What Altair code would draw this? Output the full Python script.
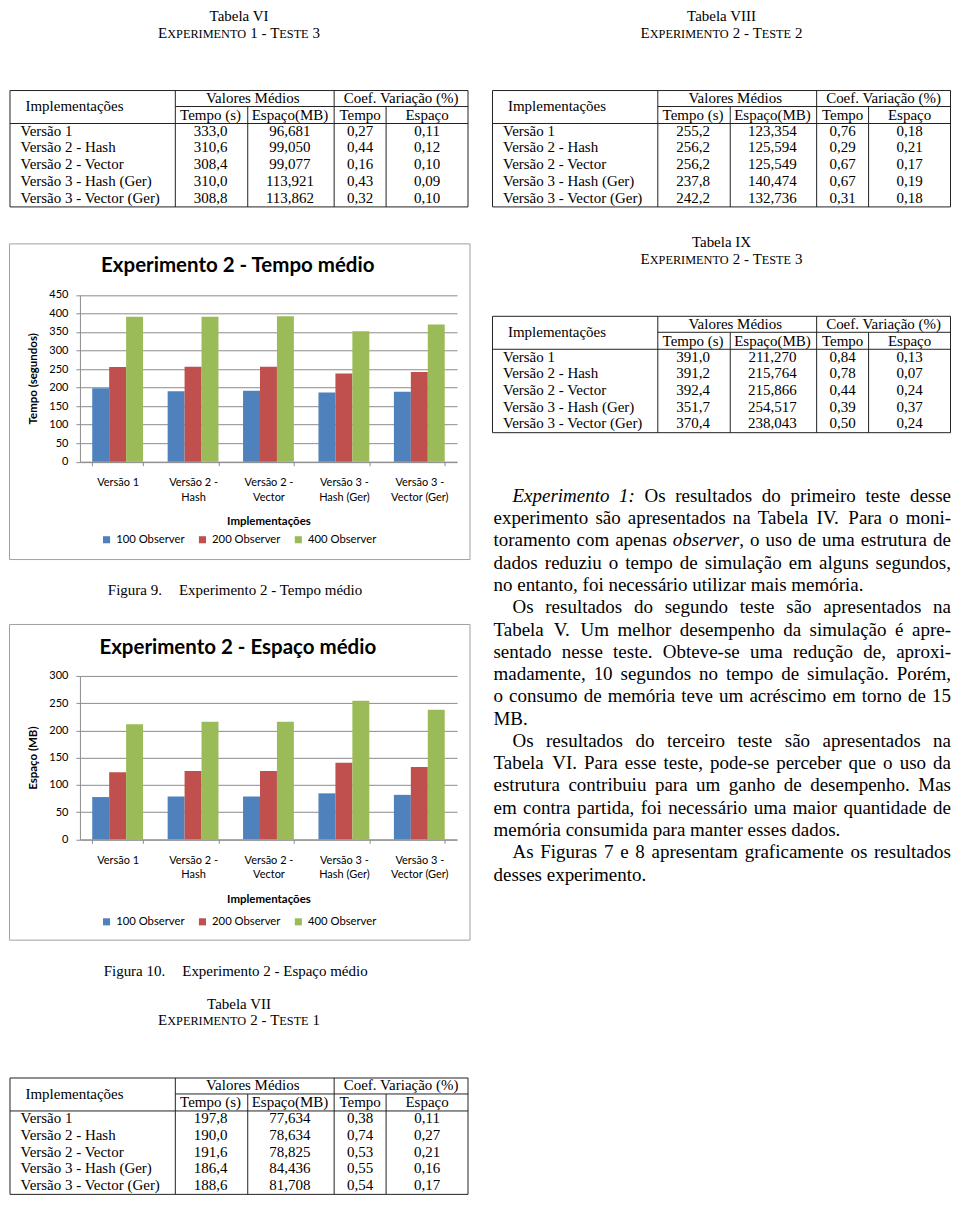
import unicodedata
import altair as alt
import pandas as pd

# ---------------------------------------------------------------- data
implementacoes = ["Versão 1", "Versão 2 - Hash", "Versão 2 - Vector",
                  "Versão 3 - Hash (Ger)", "Versão 3 - Vector (Ger)"]
series = ["100 Observer", "200 Observer", "400 Observer"]

# Tabela VI - Experimento 1 - Teste 3
t6_tempo = [333.0, 310.6, 308.4, 310.0, 308.8]
t6_espaco = [96.681, 99.050, 99.077, 113.921, 113.862]
t6_cv_tempo = [0.27, 0.44, 0.16, 0.43, 0.32]
t6_cv_espaco = [0.11, 0.12, 0.10, 0.09, 0.10]

# Tabela VII - Experimento 2 - Teste 1 (100 observer)
t7_tempo = [197.8, 190.0, 191.6, 186.4, 188.6]
t7_espaco = [77.634, 78.634, 78.825, 84.436, 81.708]
t7_cv_tempo = [0.38, 0.74, 0.53, 0.55, 0.54]
t7_cv_espaco = [0.11, 0.27, 0.21, 0.16, 0.17]

# Tabela VIII - Experimento 2 - Teste 2 (200 observer)
t8_tempo = [255.2, 256.2, 256.2, 237.8, 242.2]
t8_espaco = [123.354, 125.594, 125.549, 140.474, 132.736]
t8_cv_tempo = [0.76, 0.29, 0.67, 0.67, 0.31]
t8_cv_espaco = [0.18, 0.21, 0.17, 0.19, 0.18]

# Tabela IX - Experimento 2 - Teste 3 (400 observer)
t9_tempo = [391.0, 391.2, 392.4, 351.7, 370.4]
t9_espaco = [211.270, 215.764, 215.866, 254.517, 238.043]
t9_cv_tempo = [0.84, 0.78, 0.44, 0.39, 0.50]
t9_cv_espaco = [0.13, 0.07, 0.24, 0.37, 0.24]

tempo_ticks = [0, 50, 100, 150, 200, 250, 300, 350, 400, 450]
espaco_ticks = [0, 50, 100, 150, 200, 250, 300]

paragraph_lines = [
    ("*Experimento 1:* Os resultados do primeiro teste desse", True, True),
    ("experimento são apresentados na Tabela IV. Para o moni-", False, True),
    ("toramento com apenas *observer*, o uso de uma estrutura de", False, True),
    ("dados reduziu o tempo de simulação em alguns segundos,", False, True),
    ("no entanto, foi necessário utilizar mais memória.", False, False),
    ("Os resultados do segundo teste são apresentados na", True, True),
    ("Tabela V. Um melhor desempenho da simulação é apre-", False, True),
    ("sentado nesse teste. Obteve-se uma redução de, aproxi-", False, True),
    ("madamente, 10 segundos no tempo de simulação. Porém,", False, True),
    ("o consumo de memória teve um acréscimo em torno de 15", False, True),
    ("MB.", False, False),
    ("Os resultados do terceiro teste são apresentados na", True, True),
    ("Tabela VI. Para esse teste, pode-se perceber que o uso da", False, True),
    ("estrutura contribuiu para um ganho de desempenho. Mas", False, True),
    ("em contra partida, foi necessário uma maior quantidade de", False, True),
    ("memória consumida para manter esses dados.", False, False),
    ("As Figuras 7 e  8 apresentam graficamente os resultados", True, True),
    ("desses experimento.", False, False),
]

# ---------------------------------------------------------------- style
SERIF = "Liberation Serif"
SANS = "Lato"
COLORS = ["#4F81BD", "#C0504D", "#9BBB59"]
GRID = "#8C8C8C"
FRAME = "#A0A0A0"
LINE = "#222222"
INK = "#000000"

# Times metrics (1/1000 em) used to lay out serif text
_UP = "ABCDEFGHIJKLMNOPQRSTUVWXYZ"
_LO = "abcdefghijklmnopqrstuvwxyz"
R_W = dict(zip(_UP, [722, 667, 667, 722, 611, 556, 722, 722, 333, 389, 722, 611, 889,
                     722, 722, 556, 722, 667, 556, 611, 722, 722, 944, 722, 722, 611]))
R_W.update(zip(_LO, [444, 500, 444, 500, 444, 333, 500, 500, 278, 278, 500, 278, 778,
                     500, 500, 500, 500, 333, 389, 278, 500, 500, 722, 500, 500, 444]))
R_W.update({" ": 250, ",": 250, ".": 250, "-": 333, ":": 278, "(": 333, ")": 333, "%": 833})
I_W = dict(zip(_UP, [611, 611, 667, 722, 611, 611, 722, 722, 333, 444, 667, 556, 833,
                     667, 722, 611, 722, 611, 500, 556, 722, 611, 833, 611, 556, 556]))
I_W.update(zip(_LO, [500, 500, 444, 500, 444, 278, 500, 500, 278, 278, 444, 278, 722,
                     500, 500, 500, 500, 389, 389, 278, 500, 444, 667, 444, 444, 389]))
I_W.update({" ": 250, ",": 250, ".": 250, "-": 333, ":": 333, "(": 333, ")": 333, "%": 833})


def tw(s, size, italic=False):
    tab = I_W if italic else R_W
    tot = 0
    for ch in s:
        b = unicodedata.normalize("NFD", ch)[0]
        tot += tab.get(b, 500)
    return tot * size / 1000.0


def item(t, x, yc, size, align="left", italic=False):
    # yc = visual centre of the line; stored as alphabetic baseline
    return dict(t=t, x=x, y=yc + 0.32 * size, s=size, a=align, i=bool(italic))


def text_panel(items, rules, W, H):
    xs = alt.Scale(domain=[0, W], range=[0, W])
    ys = alt.Scale(domain=[0, H], range=[0, H])
    layers = []
    if rules:
        rdf = pd.DataFrame(rules)
        layers.append(alt.Chart(rdf).mark_rule(color=LINE, strokeWidth=1).encode(
            x=alt.X("x:Q", scale=xs, axis=None), x2="x2:Q",
            y=alt.Y("y:Q", scale=ys, axis=None), y2="y2:Q"))
    df = pd.DataFrame(items)
    for (a, it), sub in df.groupby(["a", "i"]):
        layers.append(alt.Chart(sub.reset_index(drop=True)).mark_text(
            align=a, baseline="alphabetic", font=SERIF,
            fontStyle="italic" if it else "normal", color=INK).encode(
            x=alt.X("x:Q", scale=xs, axis=None),
            y=alt.Y("y:Q", scale=ys, axis=None),
            text="t:N", size=alt.Size("s:Q", scale=None)))
    return alt.layer(*layers).properties(width=W, height=H)


def smallcaps(text, cx, yc, big=15, small=12.3):
    # tokens: (string, size) ; spaces only advance the pen
    toks = []
    for ch in text:
        if ch == " ":
            toks.append([" ", big])
            continue
        s, sz = (ch.upper(), small) if ch.islower() else (ch, big)
        if toks and toks[-1][0] != " " and toks[-1][1] == sz:
            toks[-1][0] += s
        else:
            toks.append([s, sz])
    widths = [tw(s, sz) for s, sz in toks]
    x = cx - sum(widths) / 2
    out = []
    for (s, sz), w in zip(toks, widths):
        if s != " ":
            out.append(dict(t=s, x=x, y=yc + 0.32 * big, s=sz, a="left", i=False))
        x += w
    return out


def br(v, d):
    return f"{v:.{d}f}".replace(".", ",")


PW = 461                      # panel / column width
EDGES = [1, 166.5, 239, 325.5, 377.5, 459.5]
TCX = (EDGES[0] + EDGES[-1]) / 2


def table_parts(caption, subtitle, tempo, espaco, cvt, cve, c):
    E = EDGES
    cols = [(E[1] + E[2]) / 2 - 1, (E[2] + E[3]) / 2 - 1, (E[3] + E[4]) / 2, (E[4] + E[5]) / 2]
    top, mid, hb, bot = c + 74, c + 90, c + 107, c + 190.5
    its = [item(caption, TCX, c, 15, "center")]
    its += smallcaps(subtitle, TCX, c + 16.5)
    its.append(item("Implementações", 16.5, c + 90, 15))
    its.append(item("Valores Médios", (E[1] + E[3]) / 2 - 2, c + 81.5, 15, "center"))
    its.append(item("Coef. Variação (%)", (E[3] + E[5]) / 2, c + 81.5, 15, "center"))
    for txt, cx in zip(["Tempo (s)", "Espaço(MB)", "Tempo", "Espaço"], cols):
        its.append(item(txt, cx, c + 98.5, 15, "center"))
    for k in range(5):
        y = c + 114.5 + 16.7 * k
        its.append(item(implementacoes[k], 11.5, y, 15))
        vals = [br(tempo[k], 1), br(espaco[k], 3), br(cvt[k], 2), br(cve[k], 2)]
        for v, cx in zip(vals, cols):
            its.append(item(v, cx, y, 15, "center"))
    rules = [
        dict(x=E[0], x2=E[5], y=top, y2=top),
        dict(x=E[1], x2=E[5], y=mid, y2=mid),
        dict(x=E[0], x2=E[5], y=hb, y2=hb),
        dict(x=E[0], x2=E[5], y=bot, y2=bot),
        dict(x=E[0], x2=E[0], y=top, y2=bot),
        dict(x=E[1], x2=E[1], y=top, y2=bot),
        dict(x=E[3], x2=E[3], y=top, y2=bot),
        dict(x=E[5], x2=E[5], y=top, y2=bot),
        dict(x=E[2], x2=E[2], y=mid, y2=bot),
        dict(x=E[4], x2=E[4], y=mid, y2=bot),
    ]
    return its, rules


def fig_caption(label, text, yc, cx=227):
    w1, w2, gap = tw(label, 15), tw(text, 15), 17
    x0 = cx - (w1 + gap + w2) / 2
    return [item(label, x0, yc, 15), item(text, x0 + w1 + gap, yc, 15)]


def bar_panel(vals, title, ytitle, ticks, y0, ytop, lab_y, axt_y, leg_y, title_y, H):
    rows = []
    for s_i, s in enumerate(series):
        for k, impl in enumerate(implementacoes):
            rows.append({"impl": impl, "serie": s, "v": vals[s_i][k]})
    df = pd.DataFrame(rows)
    XL, XR = 71, 448.5
    bars = alt.Chart(df).mark_bar().encode(
        x=alt.X("impl:N", sort=implementacoes,
                scale=alt.Scale(range=[XL, XR], paddingInner=0.326, paddingOuter=0.163),
                axis=alt.Axis(title="Implementações", offset=-(H - y0), tickBand="extent",
                              labelExpr="split(replace(datum.label, ' - ', ' -|'), '|')",
                              labelAngle=0, labelFont=SANS, labelFontSize=11, labelColor=INK,
                              labelLineHeight=15, labelPadding=lab_y - y0 - 4 - 6,
                              labelOverlap=False, tickSize=4, tickColor=GRID, domainColor=GRID,
                              titleFont=SANS, titleFontSize=11.5, titleFontWeight="bold",
                              titleColor=INK, titleX=(XL + XR) / 2, titleY=axt_y - y0,
                              titleAlign="center", titleBaseline="middle", grid=False)),
        xOffset=alt.XOffset("serie:N", sort=series),
        y=alt.Y("v:Q", scale=alt.Scale(domain=[ticks[0], ticks[-1]], range=[y0, ytop], nice=False),
                axis=alt.Axis(title=ytitle, offset=-XL, values=ticks, grid=True, gridColor=GRID,
                              gridWidth=1, tickSize=4, tickColor=GRID, domainColor=GRID,
                              labelFont=SANS, labelFontSize=11, labelColor=INK, labelPadding=8,
                              titleFont=SANS, titleFontSize=11.5, titleFontWeight="bold",
                              titleColor=INK, titleX=24.5 - XL, titleY=(y0 + ytop) / 2,
                              titleAngle=270, titleAlign="center", titleBaseline="middle")),
        color=alt.Color("serie:N", scale=alt.Scale(domain=series, range=COLORS),
                        legend=alt.Legend(orient="none", legendX=92, legendY=leg_y - 6,
                                          direction="horizontal", title=None, symbolType="square",
                                          symbolSize=50, symbolStrokeWidth=0, labelFont=SANS,
                                          labelFontSize=11.3, labelColor=INK, labelOffset=4,
                                          columnPadding=12, padding=0)),
    )
    ttl = alt.Chart(pd.DataFrame({"t": [title]})).mark_text(
        font=SANS, fontSize=20.5, fontWeight="bold", baseline="middle", align="center",
        color=INK).encode(x=alt.value(229), y=alt.value(title_y), text="t:N")
    return alt.layer(bars, ttl).properties(
        width=PW, height=H, view=alt.ViewBackground(stroke=FRAME, strokeWidth=1, fill="white"))


# ---------------------------------------------------------------- left column
its, rl = table_parts("Tabela VI", "Experimento 1 - Teste 3",
                      t6_tempo, t6_espaco, t6_cv_tempo, t6_cv_espaco, 8)
tab6 = text_panel(its, rl, PW, 234)

chart1 = bar_panel([t7_tempo, t8_tempo, t9_tempo], "Experimento 2 - Tempo médio",
                   "Tempo (segundos)", tempo_ticks, y0=218.5, ytop=51.6, lab_y=239,
                   axt_y=278, leg_y=297, title_y=23, H=316)

cap9 = text_panel(fig_caption("Figura 9.", "Experimento 2 - Tempo médio", 30), [], PW, 63)

chart2 = bar_panel([t7_espaco, t8_espaco, t9_espaco], "Experimento 2 - Espaço médio",
                   "Espaço (MB)", espaco_ticks, y0=215.6, ytop=52, lab_y=236.3,
                   axt_y=275.8, leg_y=298.5, title_y=24, H=316)

its = fig_caption("Figura 10.", "Experimento 2 - Espaço médio", 30.5)
its7, rl7 = table_parts("Tabela VII", "Experimento 2 - Teste 1",
                        t7_tempo, t7_espaco, t7_cv_tempo, t7_cv_espaco, 63.5)
bottom = text_panel(its + its7, rl7, PW, 254)

left = alt.vconcat(tab6, chart1, cap9, chart2, bottom, spacing=0).resolve_scale(
    color="independent").resolve_legend(color="independent")

# ---------------------------------------------------------------- right column
its8, rl8 = table_parts("Tabela VIII", "Experimento 2 - Teste 2",
                        t8_tempo, t8_espaco, t8_cv_tempo, t8_cv_espaco, 8)
tab8 = text_panel(its8, rl8, PW, 226)
its9, rl9 = table_parts("Tabela IX", "Experimento 2 - Teste 3",
                        t9_tempo, t9_espaco, t9_cv_tempo, t9_cv_espaco, 8)
tab9 = text_panel(its9, rl9, PW, 240)


def parse_words(line):
    words, cur, ital = [], [], False
    for ch in line:
        if ch == "*":
            ital = not ital
            continue
        if ch == " ":
            if cur:
                words.append(cur)
                cur = []
            continue
        cur.append((ch, ital))
    if cur:
        words.append(cur)
    out = []
    for w in words:
        pieces = []
        for ch, it in w:
            if pieces and pieces[-1][1] == it:
                pieces[-1][0] += ch
            else:
                pieces.append([ch, it])
        out.append(pieces)
    return out


FS = 19
LX0, LX1, INDENT = 2, 460, 19
para_items = []
for k, (line, indent, justify) in enumerate(paragraph_lines):
    yc = 21.7 + 22.3 * k
    words = parse_words(line)
    wws = [sum(tw(p, FS, it) for p, it in w) for w in words]
    x = LX0 + (INDENT if indent else 0)
    if justify and len(words) > 1:
        gap = (LX1 - x - sum(wws)) / (len(words) - 1)
        gap = max(gap, 0.15 * FS)
    else:
        gap = 0.25 * FS
    for w, ww in zip(words, wws):
        px = x
        for p, it in w:
            para_items.append(item(p, px, yc, FS, "left", it))
            px += tw(p, FS, it)
        x += ww + gap
para = text_panel(para_items, [], PW, 412)

right = alt.vconcat(tab8, tab9, para, spacing=0)

chart = alt.hconcat(left, right, spacing=21).resolve_scale(
    color="independent").resolve_legend(color="independent").properties(
    padding=0, background="white").configure_view(strokeWidth=0)

chart.save("out.html", embed_options={"renderer": "svg", "actions": False})
